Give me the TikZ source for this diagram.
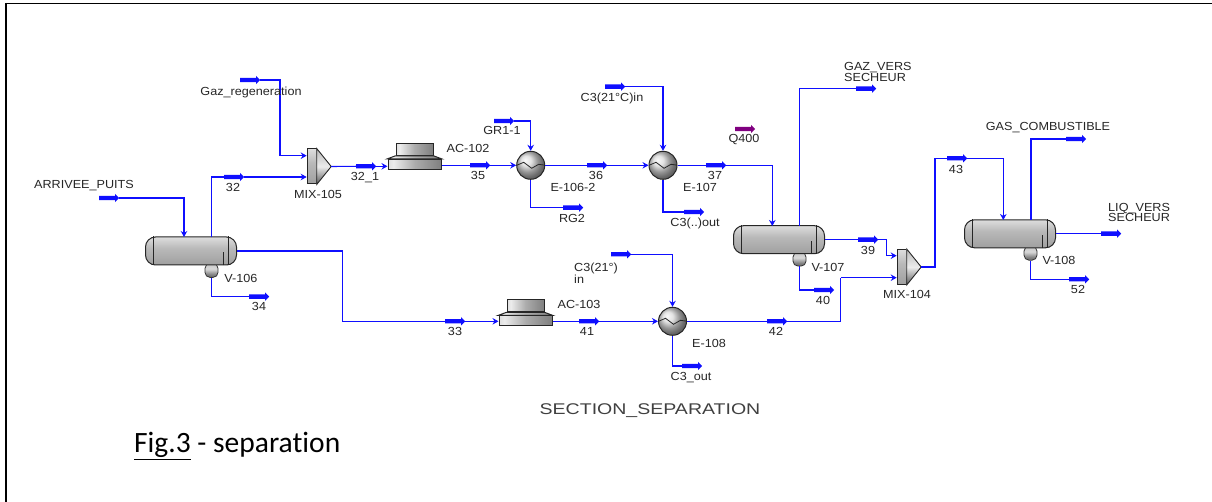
\documentclass[tikz,border=0pt]{standalone}
\usepackage{fontspec}
\usetikzlibrary{shapes.arrows,arrows.meta}
\newfontfamily\pfdfont[FakeStretch=1.08]{Liberation Sans}
\newfontfamily\secfont[FakeStretch=1.26]{Liberation Sans}
\newfontfamily\capfont[Ligatures=NoCommon]{Carlito}
\definecolor{strmblue}{RGB}{15,15,255}
\definecolor{heatpurple}{RGB}{128,0,128}
\pgfdeclareverticalshading{vesselshade}{100bp}{color(0bp)=(gray!85!black);color(25bp)=(gray!75);color(55bp)=(gray!55);color(76bp)=(white!75!gray);color(90bp)=(gray!55);color(100bp)=(gray!70)}
\pgfdeclareverticalshading{bootvert}{100bp}{color(0bp)=(gray!45!black);color(35bp)=(gray);color(55bp)=(white!70!gray);color(100bp)=(gray!60)}
\pgfdeclarehorizontalshading{coolershade}{100bp}{color(0bp)=(gray!80);color(30bp)=(white!85!gray);color(50bp)=(gray!65);color(75bp)=(gray);color(100bp)=(gray!70!black)}
\tikzset{
    stream/.style={single arrow,fill=strmblue,inner sep=2pt,minimum height=20pt,minimum width=8pt,
        single arrow head extend=2pt,single arrow head indent=0pt,anchor=tail},
    heat/.style={stream,fill=heatpurple},
    pipe/.style={draw=strmblue,line width=1.1pt},
    pipein/.style={pipe,-{Stealth[length=6pt,width=6.5pt]}},
    tagtwo/.style={font=\pfdfont\fontsize{11.7}{10.5}\selectfont,text=black!85,inner sep=0pt},
    tag/.style={tagtwo,text height=8.2pt,text depth=0pt},
    vessel/.style={draw=black!85,line width=1pt,shading=vesselshade,rounded corners=10pt,
        minimum width=91pt,minimum height=28pt,inner sep=0pt},
    boot/.style={draw=black!80,line width=0.8pt,shading=bootvert,rounded corners=5pt,
        minimum width=13pt,minimum height=14pt,inner sep=0pt,anchor=north},
    exchanger/.style={circle,draw=black!85,line width=1pt,shading=ball,ball color=gray!30,
        minimum size=28pt,inner sep=0pt,
        path picture={\draw[black!85,line width=0.8pt] (path picture bounding box.center) ++(-14,0)
            -- ++(7,-3) -- ++(8,6) -- ++(7,-4) -- ++(7,1);}},
    cooler/.style={draw=black!85,line width=1pt,shading=coolershade,inner sep=0pt},
    mixerbody/.style={draw=black!85,line width=1pt,shading=vesselshade,inner sep=0pt,minimum width=9pt,minimum height=35pt}
}
\begin{document}
\begin{tikzpicture}[x=1pt,y=-1pt]
\useasboundingbox (0,0) rectangle (1212,502);

% Page frame
\draw[black,line width=1.3pt] (5,3.5) -- (1212,3.5);
\draw[black,line width=2pt] (6,3) -- (6,502);

% Vessels
\foreach \name/\x/\y in {V106/191/251,V107/779/239.7,V108/1010/233.8}{
    \node[boot] (\name boot) at (\x+20.5,\y+12){};
    \node[vessel] (\name) at (\x,\y){};
    \draw[black!85,line width=0.9pt] (\name.north west) ++(8.5,0) -- ++(0,28);
    \draw[black!85,line width=0.9pt] (\name.north east) ++(-8.5,0) -- ++(0,28);
    \draw[black!85,line width=0.9pt] (\name.south east) ++(-14,0) -- ++(0,-13);
}

% Mixers
\foreach \name/\x/\y in {MIX105/311.7/166.5,MIX104/901.7/267}{
    \node[mixerbody] (\name) at (\x,\y){};
    \coordinate (\name out) at ([xshift=14.5pt]\name.east);
    \shade[top color=gray!55,bottom color=gray!70!black,middle color=white!85!gray,draw=black!85,line width=0.9pt]
        (\name.north east) -- (\name out) -- (\name.south east) -- cycle;
}

% Air coolers
\foreach \name/\x/\y in {AC102/414.5/164.3,AC103/525.5/320.8}{
    \node[cooler,minimum width=53pt,minimum height=10pt] (\name) at (\x,\y){};
    \node[cooler,minimum width=37pt,minimum height=12pt] (\name top) at (\x,\y-15){};
    \shade[shading=coolershade,draw=black!85,line width=1pt]
        (\name top.south west) -- (\name top.south east) -- (\name.north east) -- (\name.north west) -- cycle;
}

% Exchangers
\node[exchanger] (E1062) at (530.7,165.3){};
\node[exchanger] (E107) at (663,165.3){};
\node[exchanger] (E108) at (672.5,321.3){};

% Stream arrows
\node[stream] (SArrivee) at (99,198){};
\node[stream] (SGazreg) at (240,80){};
\node[stream] (S32) at (224,177){};
\node[stream] (S321) at (356,166.3){};
\node[stream] (S34) at (249,296.7){};
\node[stream] (S33) at (445,321.3){};
\node[stream] (S35) at (470,165.3){};
\node[stream] (S36) at (587,165.3){};
\node[stream] (S37) at (706,165.3){};
\node[stream] (S41) at (579,321.3){};
\node[stream] (S42) at (767,321.3){};
\node[stream] (SGR) at (494,121){};
\node[stream] (SRG) at (563,207.7){};
\node[stream] (SC3in) at (605,86.7){};
\node[stream] (SC3out) at (684,212){};
\node[stream] (SC3bin) at (611,254.3){};
\node[stream] (SC3bout) at (682,366){};
\node[heat] (Q400) at (735,129){};
\node[stream] (SGazsec) at (856,88.7){};
\node[stream] (S39) at (858,239.7){};
\node[stream] (S40) at (814,290){};
\node[stream] (S43) at (947,158.3){};
\node[stream] (SComb) at (1066,139){};
\node[stream] (SLiq) at (1101,233.7){};
\node[stream] (S52) at (1069,279.3){};

% Ports
\coordinate (V106in) at (184,237);
\coordinate (V106top) at (211.7,237);
\coordinate (V107in) at (772.3,226);
\coordinate (V107top) at (799.3,226);
\coordinate (V108in) at (1003.3,220);
\coordinate (V108top) at (1031,220);
\coordinate (Mix104in) at (886.7,255.7);
\coordinate (Mix104lo) at (840.7,277.7);
\coordinate (Mix105in) at (280,155.7);
\coordinate (Turn33) at (342.7,251);
\coordinate (Turn43) at (935,267);

% Streams
\draw[pipein] (SArrivee.tip) -| (V106in);
\draw[pipe] (V106top) |- (S32.tail);
\draw[pipein] (S32.tip) -- (S32.tip -| MIX105.west);
\draw[pipe] (SGazreg.tip) -| (Mix105in);
\draw[pipein] (Mix105in) -- (Mix105in -| MIX105.west);
\draw[pipe] (MIX105out) -- (S321.tail);
\draw[pipein] (S321.tip) -- (S321.tip -| AC102.west);
\draw[pipe] (V106boot.south) |- (S34.tail);
\draw[pipe] (V106.east) -- (Turn33) |- (S33.tail);
\draw[pipein] (S33.tip) -- (S33.tip -| AC103.west);
\draw[pipe] (AC102.east |- S35.tail) -- (S35.tail);
\draw[pipein] (S35.tip) -- (E1062.west);
\draw[pipe] (E1062.east) -- (S36.tail);
\draw[pipein] (S36.tip) -- (E107.west);
\draw[pipe] (E107.east) -- (S37.tail);
\draw[pipein] (S37.tip) -| (V107in);
\draw[pipein] (SGR.tip) -| (E1062.north);
\draw[pipe] (E1062.south) |- (SRG.tail);
\draw[pipein] (SC3in.tip) -| (E107.north);
\draw[pipe] (E107.south) |- (SC3out.tail);
\draw[pipe] (AC103.east |- S41.tail) -- (S41.tail);
\draw[pipein] (S41.tip) -- (E108.west);
\draw[pipein] (SC3bin.tip) -| (E108.north);
\draw[pipe] (E108.south) |- (SC3bout.tail);
\draw[pipe] (E108.east) -- (S42.tail);
\draw[pipe] (S42.tip) -| (Mix104lo);
\draw[pipein] (Mix104lo) -- (Mix104lo -| MIX104.west);
\draw[pipe] (V107top) |- (SGazsec.tail);
\draw[pipe] (V107.east) -- (S39.tail);
\draw[pipe] (S39.tip) -| (Mix104in);
\draw[pipein] (Mix104in) -- (Mix104in -| MIX104.west);
\draw[pipe] (V107boot.south) |- (S40.tail);
\draw[pipe] (MIX104out) -- (Turn43) |- (S43.tail);
\draw[pipein] (S43.tip) -| (V108in);
\draw[pipe] (V108top) |- (SComb.tail);
\draw[pipe] (V108.east |- SLiq.tail) -- (SLiq.tail);
\draw[pipe] (V108boot.south) |- (S52.tail);

% Labels
\node[tag] (LArrivee) at (84,184){ARRIVEE\_PUITS};
\node[tag] (LGazreg) at (251,91){Gaz\_regeneration};
\node[tag] (L32) at (233,187){32};
\node[tag] (LMix105) at (318,194){MIX-105};
\node[tag] (L321) at (365,176.7){32\_1};
\node[tag] (LV106) at (241,278){V-106};
\node[tag] (L34) at (259,306.7){34};
\node[tag] (LAC102) at (468,148){AC-102};
\node[tag] (L35) at (478,175.5){35};
\node[tag] (LGR) at (502,130.7){GR1-1};
\node[tag] (LE1062) at (573,187){E-106-2};
\node[tag] (LRG) at (572,218){RG2};
\node[tag] (L36) at (596,175.5){36};
\node[tag] (LC3in) at (612,97){C3(21°C)in};
\node[tag] (LE107) at (700,187){E-107};
\node[tag] (L37) at (715,175.5){37};
\node[tag] (LC3out) at (695,222){C3(..)out};
\node[tag] (LQ400) at (744,138.7){Q400};
\node[tagtwo,anchor=west,align=left] (LC3bin) at (574,273.5){C3(21°)\\in};
\node[tag] (LAC103) at (579,304){AC-103};
\node[tag] (L33) at (455,331.7){33};
\node[tag] (L41) at (587,331.7){41};
\node[tag] (LE108) at (709,343){E-108};
\node[tag] (LC3bout) at (691,376){C3\_out};
\node[tag] (L42) at (776,331.7){42};
\node[tagtwo,anchor=west,align=left] (LGazsec) at (844,72){GAZ\_VERS\\SECHEUR};
\node[tag] (LV107) at (828,267){V-107};
\node[tag] (L39) at (868,250){39};
\node[tag] (L40) at (823,300.7){40};
\node[tag] (LMix104) at (907,294.7){MIX-104};
\node[tag] (L43) at (956,169){43};
\node[tag] (LComb) at (1048,126){GAS\_COMBUSTIBLE};
\node[tagtwo,anchor=west,align=left] (LLiq) at (1108,212.5){LIQ\_VERS\\SECHEUR};
\node[tag] (LV108) at (1059,260.7){V-108};
\node[tag] (L52) at (1078,289){52};

\node[font=\secfont\fontsize{15.5}{18}\selectfont,text=black!75,inner sep=0pt,text height=11pt,text depth=0pt] (LSection) at (650,408.5){SECTION\_SEPARATION};
\node[font=\capfont\fontsize{29.5}{32}\selectfont,anchor=west,inner sep=0pt] (LFig) at (134,446){\underline{Fig.3} - separation};
\end{tikzpicture}
\end{document}
